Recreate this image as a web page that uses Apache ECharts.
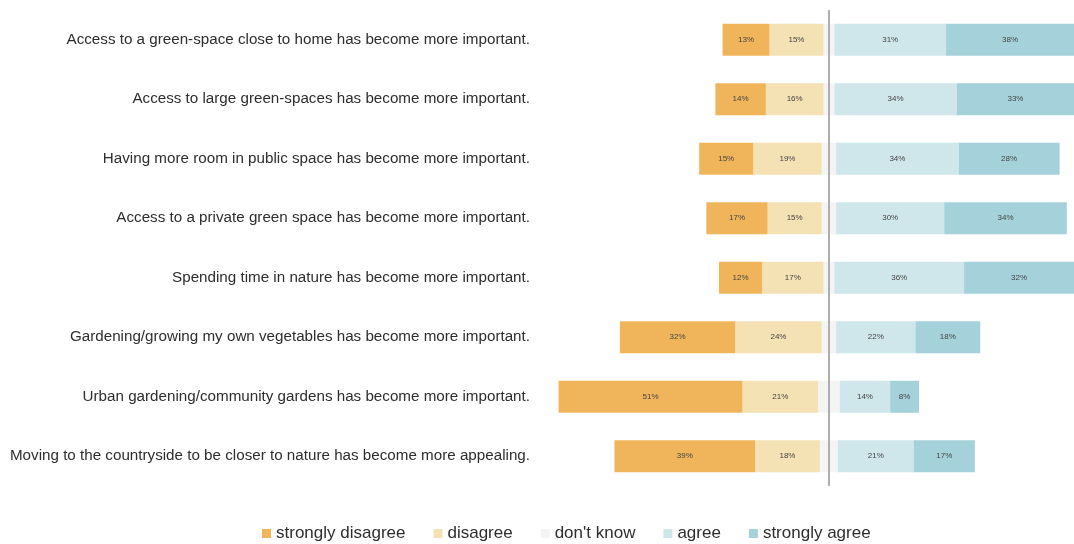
<!DOCTYPE html>
<html>
<head>
<meta charset="utf-8">
<script src="https://cdn.jsdelivr.net/npm/echarts@6/dist/echarts.min.js"></script>
<style>html,body{margin:0;padding:0;background:#fff;}#chart{width:1074px;height:544px;}</style>
</head>
<body>
<div id="chart"></div>
<script>
const categories = [
  "Access to a green-space close to home has become more important.",
  "Access to large green-spaces has become more important.",
  "Having more room in public space has become more important.",
  "Access to a private green space has become more important.",
  "Spending time in nature has become more important.",
  "Gardening/growing my own vegetables has become more important.",
  "Urban gardening/community gardens has become more important.",
  "Moving to the countryside to be closer to nature has become more appealing."
];
const stronglyDisagree = [13, 14, 15, 17, 12, 32, 51, 39];
const disagree         = [15, 16, 19, 15, 17, 24, 21, 18];
const dontKnow         = [3, 3, 4, 4, 3, 4, 6, 5];
const agree            = [31, 34, 34, 30, 36, 22, 14, 21];
const stronglyAgree    = [38, 33, 28, 34, 32, 18, 8, 17];
const legendNames = ["strongly disagree", "disagree", "don't know", "agree", "strongly agree"];

const colors = {
  sd: "#F0B45B",
  d: "#F5E2B4",
  dk: "#F4F4F4",
  a: "#CFE6EB",
  sa: "#A5D1DA"
};
const FONT = "'Liberation Sans', Arial, sans-serif";
function valLabel(arr) {
  return {
    show: true,
    position: "inside",
    fontFamily: FONT,
    fontSize: 8,
    color: "#444",
    formatter: p => arr[p.dataIndex] + "%"
  };
}
const barW = 32;
const series = [
  {
    name: "don't know", type: "bar", stack: "s", barWidth: barW,
    itemStyle: { color: colors.dk },
    data: dontKnow.map(v => -v / 2),
    markLine: {
      silent: true, symbol: "none",
      label: { show: false },
      lineStyle: { color: "#AEAEAE", width: 2, type: "solid" },
      data: [{ xAxis: 0 }]
    }
  },
  {
    name: "disagree", type: "bar", stack: "s", barWidth: barW,
    itemStyle: { color: colors.d },
    label: valLabel(disagree),
    data: disagree.map(v => -v)
  },
  {
    name: "strongly disagree", type: "bar", stack: "s", barWidth: barW,
    itemStyle: { color: colors.sd },
    label: valLabel(stronglyDisagree),
    data: stronglyDisagree.map(v => -v)
  },
  {
    name: "don't know", type: "bar", stack: "s", barWidth: barW,
    itemStyle: { color: colors.dk },
    data: dontKnow.map(v => v / 2)
  },
  {
    name: "agree", type: "bar", stack: "s", barWidth: barW,
    itemStyle: { color: colors.a },
    label: valLabel(agree),
    data: agree.slice()
  },
  {
    name: "strongly agree", type: "bar", stack: "s", barWidth: barW,
    itemStyle: { color: colors.sa },
    label: valLabel(stronglyAgree),
    data: stronglyAgree.slice()
  }
];

const chart = echarts.init(document.getElementById("chart"), null, { renderer: "canvas" });
chart.setOption({
  animation: false,
  backgroundColor: "#ffffff",
  grid: { left: 555, right: 0, top: 10, bottom: 58, containLabel: false, outerBoundsMode: "none" },
  xAxis: {
    type: "value", min: -76, max: 68,
    show: false
  },
  yAxis: {
    type: "category", inverse: true, data: categories,
    axisLine: { show: false, onZero: false },
    axisTick: { show: false },
    axisLabel: {
      margin: 25,
      fontFamily: FONT,
      fontSize: 15.2,
      color: "#2e2e2e"
    }
  },
  legend: {
    data: legendNames,
    bottom: 2,
    left: 262,
    padding: 0,
    icon: "rect",
    itemWidth: 9, itemHeight: 9,
    itemGap: 28,
    textStyle: { fontFamily: FONT, fontSize: 17, color: "#2e2e2e" }
  },
  series: series
});
</script>
</body>
</html>
